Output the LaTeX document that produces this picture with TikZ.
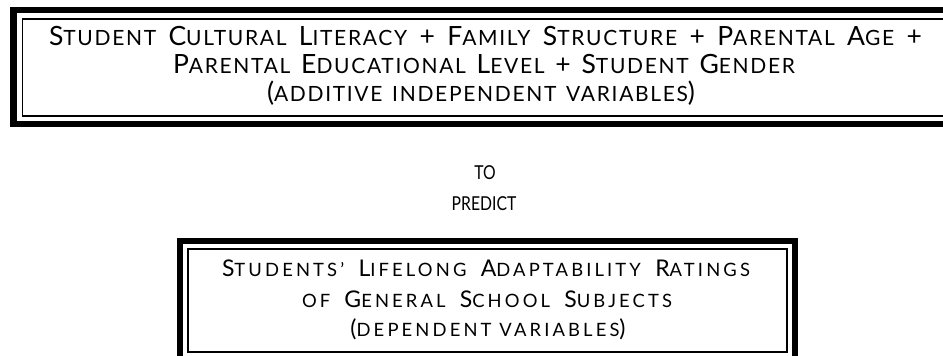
\documentclass[tikz,border=0pt]{standalone}
\usepackage{fontspec}
\setmainfont{Lato}[LetterSpace=8]
\newfontfamily\widefont{Lato}[LetterSpace=17]
\newfontfamily\plainfont{Lato}
\usetikzlibrary{calc}

% fake small caps: big initial, smaller rest
\newcommand\capsz{\fontsize{13.25}{15}\selectfont}
\newcommand\lowsz{\fontsize{10.5}{12}\selectfont}
\newcommand\capszb{\widefont\fontsize{11.5}{13}\selectfont}
\newcommand\lowszb{\widefont\fontsize{9.2}{11}\selectfont}
\newcommand\scw[2]{{\capsz #1}{\lowsz #2}}
\newcommand\scb[2]{{\capszb #1}{\lowszb #2}}
% stretch the word gaps of a line to a given width
\newcommand\spread[2]{\makebox[#1][s]{#2}}

\begin{document}
\begin{tikzpicture}[%
        x = 0.5pt,
        y = -0.5pt,
        thinframe/.style = {draw = black, line width = 0.8pt, inner sep = 0pt},
        thickline/.style = {draw = black, line width = 3.25pt},
        textline/.style = {inner sep = 0pt, anchor = base},
        linkword/.style = {inner sep = 0pt, anchor = base, font = \plainfont\fontsize{9.6}{11}\selectfont},
        ]

\useasboundingbox (0,0) rectangle (943,356);
\clip (0,0) rectangle (943,356);

% predictors
\node (preds) [thinframe, minimum width = 478.75pt, minimum height = 48.5pt] at (501.25,67.5) {};
\draw[thickline] ($(preds.north west)+(-8,-8)$) rectangle ($(preds.south east)+(8,7)$);

\node (p1) [textline] at (485.5,46)
    {\spread{436.5pt}{\scw{S}{TUDENT} \scw{C}{ULTURAL} \scw{L}{ITERACY} {\capsz +} \scw{F}{AMILY} \scw{S}{TRUCTURE} {\capsz +} \scw{P}{ARENTAL} \scw{A}{GE} {\capsz +}}};
\node (p2) [textline] at (484,74)
    {\spread{311pt}{\scw{P}{ARENTAL} \scw{E}{DUCATIONAL} \scw{L}{EVEL} {\capsz +} \scw{S}{TUDENT} \scw{G}{ENDER}}};
\node (p3) [textline] at (481,102)
    {\spread{214pt}{{\capsz (}{\lowsz ADDITIVE INDEPENDENT VARIABLES}{\capsz )}}};

% link words
\node (to) [linkword] at (485,180) {\scalebox{0.82}[1]{TO}};
\node (predict) [linkword] at (484,211) {\scalebox{0.82}[1]{PREDICT}};

% outcome
\node (outc) [thinframe, minimum width = 299.5pt, minimum height = 51.5pt] at (487.5,300.5) {};
\draw[thickline] ($(outc.north west)+(-7,-7)$) rectangle ($(outc.south east)+(7,7)$);

\node (o1) [textline] at (486,277)
    {\spread{264pt}{\scb{S}{TUDENTS’} \scb{L}{IFELONG} \scb{A}{DAPTABILITY} \scb{R}{ATINGS}}};
\node (o2) [textline] at (487,308)
    {\spread{185pt}{{\lowszb OF} \scb{G}{ENERAL} \scb{S}{CHOOL} \scb{S}{UBJECTS}}};
\node (o3) [textline] at (488,337)
    {{\capszb (}{\lowszb DEPENDENT VARIABLES}{\capszb )}};

\end{tikzpicture}
\end{document}
